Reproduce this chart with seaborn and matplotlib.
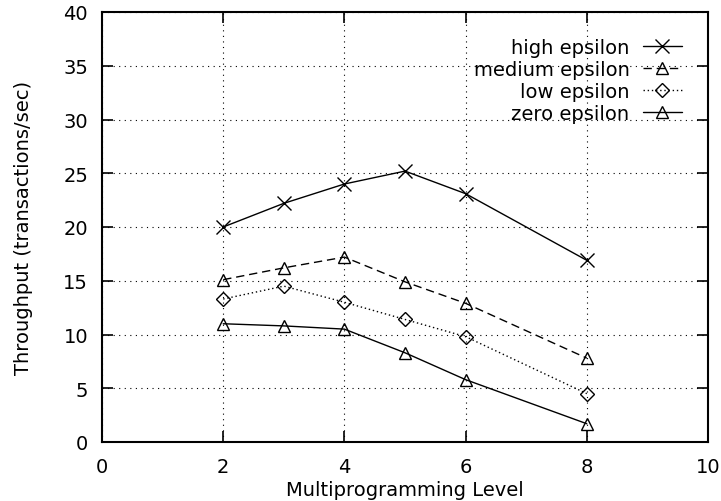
import matplotlib
matplotlib.use("Agg")
import matplotlib.pyplot as plt
import seaborn as sns
import pandas as pd

x_levels = [2, 3, 4, 5, 6, 8]
high_eps = [20.0, 22.2, 24.0, 25.2, 23.1, 16.9]
medium_eps = [15.1, 16.2, 17.2, 14.9, 12.9, 7.8]
low_eps = [13.3, 14.5, 13.0, 11.4, 9.8, 4.5]
zero_eps = [11.0, 10.8, 10.5, 8.3, 5.8, 1.7]
series_names = ["high epsilon", "medium epsilon", "low epsilon", "zero epsilon"]
x_ticks = [0, 2, 4, 6, 8, 10]
y_ticks = [0, 5, 10, 15, 20, 25, 30, 35, 40]

sns.set_theme(style="white")
plt.rcParams['font.family'] = ['DejaVu Sans']
FS = 14
plt.rcParams['font.size'] = FS
plt.rcParams['text.color'] = 'black'
plt.rcParams['axes.labelcolor'] = 'black'
plt.rcParams['xtick.color'] = 'black'
plt.rcParams['ytick.color'] = 'black'

fig = plt.figure(figsize=(7.21, 5.02), dpi=100)
ax = fig.add_axes([102/721, 59/502, 606/721, 430/502])

rows = []
for name, vals in zip(series_names, [high_eps, medium_eps, low_eps, zero_eps]):
    for xv, yv in zip(x_levels, vals):
        rows.append({"level": xv, "throughput": yv, "series": name})
df = pd.DataFrame(rows)

styles = {
    "high epsilon": dict(marker="x", ls="-", ms=10, mew=1.0),
    "medium epsilon": dict(marker="^", ls=(0, (6, 3.5)), ms=9, mew=1.0),
    "low epsilon": dict(marker="D", ls=(0, (1, 2)), ms=7, mew=1.0),
    "zero epsilon": dict(marker="^", ls="-", ms=9, mew=1.0),
}
for name in series_names:
    st = styles[name]
    sns.lineplot(data=df[df.series == name], x="level", y="throughput", ax=ax,
                 color="black", linewidth=1.0, linestyle=st["ls"], marker=st["marker"],
                 markersize=st["ms"], markeredgewidth=st["mew"], markerfacecolor="none",
                 markeredgecolor="black", label=name)

ax.set_xlim(0, 10)
ax.set_ylim(0, 40)
ax.set_xticks(x_ticks)
ax.set_yticks(y_ticks)
ax.set_xlabel("Multiprogramming Level", fontsize=FS, labelpad=3, color="black")
ax.set_ylabel("Throughput (transactions/sec)", fontsize=FS, labelpad=22, color="black")
ax.grid(True, color="black", linestyle=(0, (1, 4)), linewidth=0.8)
ax.tick_params(direction="in", length=8, width=1.2, top=True, right=True,
               bottom=True, left=True, labelsize=FS, colors="black")
ax.tick_params(axis="y", pad=10)
ax.tick_params(axis="x", pad=11)
for sp in ax.spines.values():
    sp.set_color("black")
    sp.set_linewidth(1.5)

leg = ax.legend(loc="upper right", bbox_to_anchor=(0.973, 0.962), frameon=False,
                markerfirst=False, handlelength=2.0, handletextpad=0.7,
                labelspacing=0.15, borderpad=0, fontsize=FS)
for t in leg.get_texts():
    t.set_color("black")

fig.savefig("out.png", dpi=100)
